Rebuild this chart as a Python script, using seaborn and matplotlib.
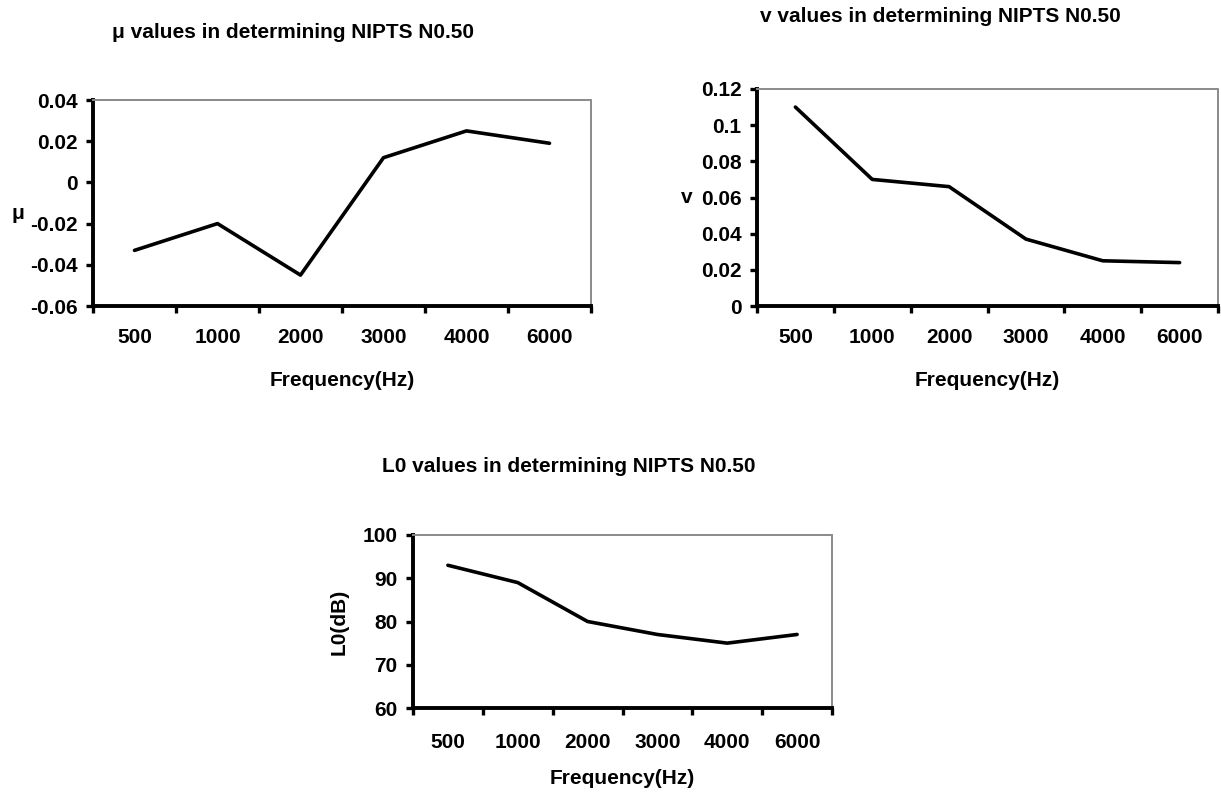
import numpy as np
import pandas as pd
import matplotlib
matplotlib.use("Agg")
import matplotlib.pyplot as plt
import seaborn as sns
from matplotlib.ticker import FixedLocator

sns.set_theme(style="white")
plt.rcParams['font.family'] = ['Liberation Sans', 'DejaVu Sans']
plt.rcParams['font.weight'] = 'bold'
plt.rcParams['text.color'] = 'black'
plt.rcParams['axes.labelcolor'] = 'black'
plt.rcParams['xtick.color'] = 'black'
plt.rcParams['ytick.color'] = 'black'

# data
freqs = ["500", "1000", "2000", "3000", "4000", "6000"]
mu_vals = [-0.033, -0.020, -0.045, 0.012, 0.025, 0.019]
v_vals = [0.110, 0.070, 0.066, 0.037, 0.025, 0.024]
l0_vals = [93, 89, 80, 77, 75, 77]

W, H = 1221, 794
FS = 15
fig = plt.figure(figsize=(W / 100, H / 100), dpi=100)

def px_axes(left, top, right, bottom):
    return fig.add_axes([left / W, 1 - bottom / H, (right - left) / W, (bottom - top) / H])

def style_axes(ax, vals, ylim, yticks, ylabels, xpad=16, xlabelpad=17):
    df = pd.DataFrame({"pos": np.arange(len(freqs)), "val": vals})
    sns.lineplot(data=df, x="pos", y="val", ax=ax, color="black", linewidth=2.6)
    ax.set_xlim(-0.5, len(freqs) - 0.5)
    ax.set_ylim(*ylim)
    ax.xaxis.set_major_locator(FixedLocator(np.arange(len(freqs))))
    ax.set_xticklabels(freqs)
    ax.xaxis.set_minor_locator(FixedLocator(np.arange(len(freqs) + 1) - 0.5))
    ax.tick_params(axis="x", which="major", length=0, pad=xpad, labelsize=FS)
    ax.tick_params(axis="x", which="minor", length=5, width=2.4, direction="out", bottom=True)
    ax.set_yticks(yticks)
    ax.set_yticklabels(ylabels)
    ax.tick_params(axis="y", length=5, width=2.4, direction="out", left=True, labelsize=FS, pad=6)
    for s in ["left", "bottom"]:
        ax.spines[s].set_color("black")
        ax.spines[s].set_linewidth(2.8)
    for s in ["top", "right"]:
        ax.spines[s].set_color("#8a8a8a")
        ax.spines[s].set_linewidth(1.4)
        ax.spines[s].set_linestyle((0, (1, 1)))
    ax.set_xlabel("Frequency(Hz)", fontsize=FS, fontweight="bold", labelpad=xlabelpad)

# mu panel
ax1 = px_axes(93, 100, 591, 306)
style_axes(ax1, mu_vals, (-0.06, 0.04), [-0.06, -0.04, -0.02, 0, 0.02, 0.04],
           ["-0.06", "-0.04", "-0.02", "0", "0.02", "0.04"])
ax1.set_ylabel("μ", fontsize=FS, fontweight="bold", rotation=0, labelpad=8, va="center")
ax1.yaxis.set_label_coords(-0.15, 0.45)
fig.text(112 / W, 1 - 32 / H, "μ values in determining NIPTS N0.50",
         ha="left", va="center", fontsize=FS, fontweight="bold")

# v panel
ax2 = px_axes(757, 89, 1218, 306)
style_axes(ax2, v_vals, (0, 0.12), [0, 0.02, 0.04, 0.06, 0.08, 0.1, 0.12],
           ["0", "0.02", "0.04", "0.06", "0.08", "0.1", "0.12"])
ax2.set_ylabel("v", fontsize=FS, fontweight="bold", rotation=0, labelpad=10, va="center")
fig.text(760 / W, 1 - 16 / H, "v values in determining NIPTS N0.50",
         ha="left", va="center", fontsize=FS, fontweight="bold")

# L0 panel
ax3 = px_axes(413, 535, 832, 708)
style_axes(ax3, l0_vals, (60, 100), [60, 70, 80, 90, 100], ["60", "70", "80", "90", "100"],
           xpad=18, xlabelpad=12)
ax3.set_ylabel("L0(dB)", fontsize=FS, fontweight="bold", labelpad=10)
fig.text(382 / W, 1 - 467 / H, "L0 values in determining NIPTS N0.50",
         ha="left", va="center", fontsize=FS, fontweight="bold")

fig.savefig("out.png", dpi=100, facecolor="white")
